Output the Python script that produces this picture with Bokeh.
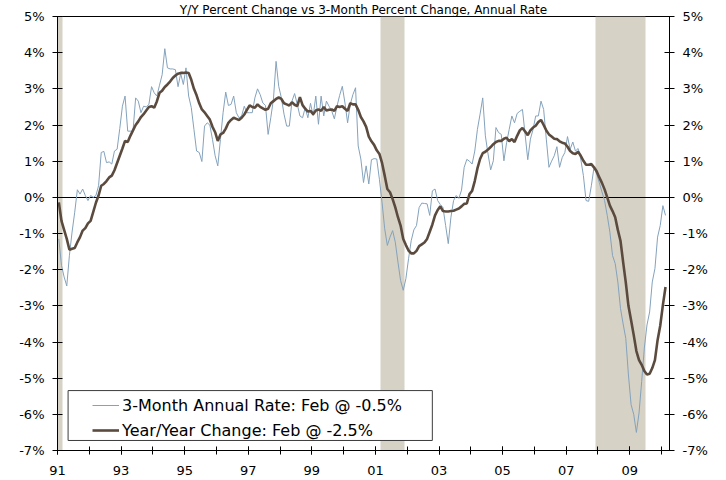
from bokeh.plotting import figure
from bokeh.models import FixedTicker, LinearAxis, Range1d, Legend, LegendItem, BoxAnnotation
from bokeh.core.properties import value
from bokeh.embed import file_html
from bokeh.resources import INLINE

# ---------------- data (monthly, Jan 1991 - Feb 2010, percent) ----------------
# Year/Year change
yoy_1991 = [-0.14, -0.65, -0.9, -1.15, -1.45, -1.42, -1.4, -1.24, -1.1, -0.92, -0.85, -0.72]
yoy_1992 = [-0.65, -0.4, -0.15, 0.05, 0.32, 0.37, 0.45, 0.55, 0.6, 0.75, 0.95, 1.15]
yoy_1993 = [1.35, 1.56, 1.53, 1.7, 1.85, 2.0, 2.1, 2.22, 2.3, 2.4, 2.5, 2.52]
yoy_1994 = [2.48, 2.65, 2.89, 2.95, 3.05, 3.12, 3.2, 3.3, 3.37, 3.42, 3.44, 3.44]
yoy_1995 = [3.45, 3.44, 3.25, 3.0, 2.82, 2.6, 2.43, 2.35, 2.25, 2.15, 1.95, 1.8]
yoy_1996 = [1.56, 1.74, 1.78, 1.9, 2.06, 2.14, 2.2, 2.17, 2.14, 2.2, 2.29, 2.42]
yoy_1997 = [2.54, 2.5, 2.48, 2.57, 2.5, 2.46, 2.42, 2.45, 2.6, 2.66, 2.72, 2.76]
yoy_1998 = [2.72, 2.6, 2.57, 2.54, 2.63, 2.56, 2.52, 2.77, 2.55, 2.45, 2.37, 2.39]
yoy_1999 = [2.3, 2.4, 2.43, 2.39, 2.5, 2.4, 2.42, 2.43, 2.39, 2.52, 2.5, 2.52]
yoy_2000 = [2.45, 2.39, 2.6, 2.57, 2.57, 2.42, 2.22, 2.1, 1.95, 1.68, 1.55, 1.45]
yoy_2001 = [1.3, 1.2, 0.95, 0.6, 0.23, 0.14, -0.05, -0.28, -0.55, -0.78, -1.15, -1.32]
yoy_2002 = [-1.47, -1.55, -1.55, -1.48, -1.35, -1.3, -1.25, -1.15, -0.95, -0.75, -0.5, -0.35]
yoy_2003 = [-0.25, -0.38, -0.39, -0.39, -0.38, -0.37, -0.34, -0.31, -0.25, -0.18, -0.17, 0.09]
yoy_2004 = [0.18, 0.45, 0.8, 1.06, 1.22, 1.26, 1.32, 1.39, 1.47, 1.53, 1.56, 1.56]
yoy_2005 = [1.62, 1.65, 1.55, 1.61, 1.53, 1.7, 1.85, 1.92, 1.82, 1.72, 1.85, 1.93]
yoy_2006 = [1.98, 2.08, 2.14, 2.0, 1.85, 1.74, 1.68, 1.62, 1.61, 1.55, 1.51, 1.49]
yoy_2007 = [1.4, 1.28, 1.22, 1.2, 1.26, 1.15, 1.01, 0.9, 0.9, 0.92, 0.83, 0.72]
yoy_2008 = [0.55, 0.4, 0.22, 0.0, -0.23, -0.38, -0.55, -0.9, -1.2, -1.79, -2.35, -3.0]
yoy_2009 = [-3.4, -3.81, -4.25, -4.5, -4.63, -4.8, -4.9, -4.88, -4.72, -4.5, -3.95, -3.55]
yoy_2010 = [-2.98, -2.48]

# 3-month annual rate
tm_1991 = [-1.15, -1.88, -2.2, -2.45, -1.6, -0.96, -0.41, 0.21, 0.09, 0.23, 0.05, -0.09]
tm_1992 = [0.05, 0.0, 0.05, 0.32, 1.24, 1.27, 0.96, 0.98, 0.92, 1.28, 1.33, 1.9]
tm_1993 = [2.52, 2.8, 1.83, 1.83, 1.83, 2.75, 2.66, 2.34, 2.52, 2.5, 2.57, 3.06]
tm_1994 = [2.89, 2.8, 3.1, 3.39, 4.11, 3.58, 3.55, 3.55, 3.53, 3.06, 3.42, 3.12]
tm_1995 = [3.58, 2.8, 2.48, 1.88, 1.28, 1.24, 0.99, 1.97, 2.06, 2.0, 1.6, 1.15]
tm_1996 = [0.87, 1.6, 2.34, 2.91, 2.54, 2.57, 2.8, 2.34, 2.2, 2.25, 2.52, 2.34]
tm_1997 = [2.34, 2.34, 2.75, 3.0, 2.84, 2.61, 2.54, 1.74, 2.2, 2.71, 3.76, 3.07]
tm_1998 = [2.75, 2.3, 1.97, 1.97, 2.66, 2.87, 2.57, 2.25, 2.2, 2.48, 2.2, 2.6]
tm_1999 = [2.25, 2.8, 2.02, 2.8, 2.25, 2.66, 2.52, 2.39, 2.17, 2.52, 2.82, 3.07]
tm_2000 = [2.61, 2.06, 2.57, 2.84, 3.03, 1.42, 1.06, 0.41, 0.87, 0.37, 1.04, 1.07]
tm_2001 = [1.06, 0.5, -0.14, -0.87, -1.33, -1.1, -0.92, -1.24, -1.79, -2.3, -2.57, -2.25]
tm_2002 = [-1.7, -1.2, -0.9, -0.78, -0.28, -0.16, -0.17, -0.18, -0.5, 0.18, 0.23, -0.09]
tm_2003 = [-0.2, -0.28, -0.78, -1.28, -0.55, -0.09, 0.05, -0.03, 0.2, 0.83, 1.05, 1.0]
tm_2004 = [0.92, 1.28, 1.88, 2.3, 2.75, 1.7, 1.2, 0.76, 1.01, 1.93, 1.79, 1.74]
tm_2005 = [1.01, 1.51, 1.88, 2.25, 2.06, 2.32, 2.38, 2.43, 1.74, 1.04, 1.61, 1.88]
tm_2006 = [2.25, 2.25, 2.66, 2.43, 1.61, 0.83, 1.0, 1.15, 1.4, 0.83, 1.1, 1.24]
tm_2007 = [1.68, 1.33, 1.53, 1.28, 1.35, 1.06, 0.6, -0.09, -0.11, 0.32, 0.83, 0.64]
tm_2008 = [0.41, 0.15, -0.09, -0.5, -0.96, -1.61, -1.83, -2.34, -3.07, -3.5, -3.9, -4.91]
tm_2009 = [-5.73, -6.0, -6.5, -5.96, -5.09, -4.17, -3.53, -3.17, -2.34, -1.97, -1.1, -0.78]
tm_2010 = [-0.23, -0.5]

# recessions (decimal years)
rec_start = [1990.50, 2001.17, 2007.92]
rec_end = [1991.15, 2001.92, 2009.50]

y_ticks = list(range(-7, 6))
label_years = list(range(1991, 2010, 2))
all_years = list(range(1991, 2011))

title_text = "Y/Y Percent Change vs 3-Month Percent Change, Annual Rate"
label_3m = "3-Month Annual Rate: Feb @ -0.5%"
label_yy = "Year/Year Change: Feb @ -2.5%"

yoy = (yoy_1991 + yoy_1992 + yoy_1993 + yoy_1994 + yoy_1995 + yoy_1996 + yoy_1997 +
       yoy_1998 + yoy_1999 + yoy_2000 + yoy_2001 + yoy_2002 + yoy_2003 + yoy_2004 +
       yoy_2005 + yoy_2006 + yoy_2007 + yoy_2008 + yoy_2009 + yoy_2010)
tm = (tm_1991 + tm_1992 + tm_1993 + tm_1994 + tm_1995 + tm_1996 + tm_1997 +
      tm_1998 + tm_1999 + tm_2000 + tm_2001 + tm_2002 + tm_2003 + tm_2004 +
      tm_2005 + tm_2006 + tm_2007 + tm_2008 + tm_2009 + tm_2010)
# month midpoints as decimal years
x = [1991 + (i + 0.5) / 12 for i in range(len(yoy))]

# ---------------- figure ----------------
FONT = "DejaVu Sans"
x0, x1 = 1991.0, 2010.25
p = figure(width=726, height=480, x_range=Range1d(x0, x1), y_range=Range1d(-7, 5),
           output_backend="svg", toolbar_location=None, title=title_text,
           min_border_left=57, min_border_right=57, min_border_top=15, min_border_bottom=30)
p.title.align = "center"
p.title.text_font = FONT
p.title.text_font_size = "12px"
p.title.text_font_style = "normal"
p.title.text_color = "black"
p.title.standoff = 0
p.title.offset = 0
p.xgrid.visible = False
p.ygrid.visible = False
p.outline_line_color = "black"
p.outline_line_width = 1
p.background_fill_color = "white"
p.border_fill_color = "white"

p.vstrip(x0=rec_start, x1=rec_end, fill_color="#D6D2C6", line_color=None)
p.hspan(y=[0], line_color="black", line_width=1)
r_tm = p.line(x, tm, line_color="#84A2BC", line_width=1)
r_yy = p.line(x, yoy, line_color="#5B4B3F", line_width=2.6)

# x axis
xa = p.xaxis[0]
xa.ticker = FixedTicker(ticks=label_years, minor_ticks=all_years)
xa.major_label_overrides = {yr: f"{yr % 100:02d}" for yr in label_years}
xa.major_tick_in = 4
xa.major_tick_out = 4
xa.minor_tick_in = 4
xa.minor_tick_out = 4
xa.major_label_standoff = 11
xa.axis_line_color = "black"
xa.major_tick_line_color = "black"
xa.minor_tick_line_color = "black"
xa.major_label_text_font = FONT
xa.major_label_text_font_size = "13px"
xa.major_label_text_color = "black"

# y axes
ya = p.yaxis[0]
yb = LinearAxis()
p.add_layout(yb, "right")
for ax in [ya, yb]:
    ax.ticker = FixedTicker(ticks=y_ticks, minor_ticks=[])
    ax.major_label_overrides = {t: f"{t}%" for t in y_ticks}
    ax.major_tick_in = 5
    ax.major_tick_out = 5
    ax.major_label_standoff = 8
    ax.axis_line_color = "black"
    ax.major_tick_line_color = "black"
    ax.major_label_text_font = FONT
    ax.major_label_text_font_size = "13px"
    ax.major_label_text_color = "black"

# legend frame + legend
p.add_layout(BoxAnnotation(left=1991.333, right=2002.79, bottom=-6.723, top=-5.343,
                           fill_color="white", fill_alpha=1, line_color="#3C3C3C",
                           line_width=1, line_alpha=1))
legend = Legend(items=[LegendItem(label=value(label_3m), renderers=[r_tm]),
                       LegendItem(label=value(label_yy), renderers=[r_yy])],
                location=(35, 10), orientation="vertical", padding=0, margin=0,
                spacing=5, glyph_width=27, glyph_height=20, label_height=20,
                label_standoff=3, label_text_font=FONT, label_text_font_size="16px",
                label_text_color="black", background_fill_alpha=0, border_line_alpha=0)
p.add_layout(legend)

open("out.html", "w").write(file_html(p, INLINE))
